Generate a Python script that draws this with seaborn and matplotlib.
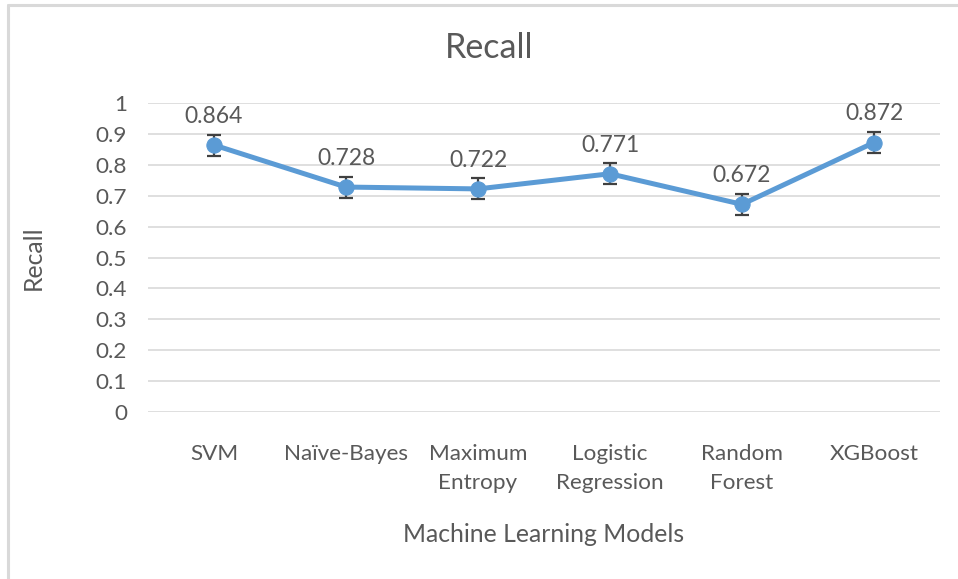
import matplotlib
matplotlib.use("Agg")
import matplotlib.pyplot as plt
import seaborn as sns
import pandas as pd
from matplotlib.lines import Line2D

models = ["SVM", "Naïve-Bayes", "Maximum\nEntropy", "Logistic\nRegression", "Random\nForest", "XGBoost"]
recall = [0.864, 0.728, 0.722, 0.771, 0.672, 0.872]
errors = [0.034, 0.034, 0.034, 0.034, 0.034, 0.034]
y_ticks = [0, 0.1, 0.2, 0.3, 0.4, 0.5, 0.6, 0.7, 0.8, 0.9, 1]
y_tick_labels = ["0", "0.1", "0.2", "0.3", "0.4", "0.5", "0.6", "0.7", "0.8", "0.9", "1"]

sns.set_theme(style="white")
plt.rcParams['font.family'] = ['Lato', 'DejaVu Sans']

TEXT = "#595959"
BLUE = "#5B9BD5"
GRID = "#D9D9D9"

df = pd.DataFrame({"model": models, "recall": recall, "err": errors})
df["pos"] = range(len(df))

fig = plt.figure(figsize=(9.58, 5.79), dpi=100)
ax = fig.add_axes([148/958, 1-412/579, 792/958, 309/579])

ax.errorbar(df["pos"], df["recall"], yerr=df["err"], fmt="none",
            ecolor="#404040", elinewidth=1.6, capsize=5, capthick=1.6, zorder=2)
sns.lineplot(data=df, x="pos", y="recall", ax=ax, color=BLUE, linewidth=3.6,
             marker="o", markersize=11, markeredgecolor=BLUE, sort=False, zorder=3)

for i, v in enumerate(recall):
    ax.annotate(f"{v:.3f}", (i, v), xytext=(0, 13), textcoords="offset points",
                ha="center", va="bottom", fontsize=16.5, color=TEXT)

ax.set_xlim(-0.5, len(models) - 0.5)
ax.set_ylim(0, 1)
ax.set_yticks(y_ticks)
ax.set_yticklabels(y_tick_labels)
ax.set_xticks(range(len(models)))
ax.set_xticklabels(models, ha="center", multialignment="center")
for lbl in ax.get_xticklabels():
    lbl.set_linespacing(1.55)
ax.tick_params(axis="y", length=0, pad=15, labelsize=16.2, labelcolor=TEXT)
ax.tick_params(axis="x", length=0, pad=23, labelsize=16.2, labelcolor=TEXT)
ax.yaxis.grid(True, color=GRID, linewidth=1.2)
ax.xaxis.grid(False)
for s in ax.spines.values():
    s.set_visible(False)

ax.set_xlabel("Machine Learning Models", fontsize=17.8, color=TEXT, labelpad=22)
ax.set_ylabel("Recall", fontsize=17.8, color=TEXT, labelpad=37)
fig.text(489/958, 1-48/579, "Recall", ha="center", va="center", fontsize=24.5, color=TEXT)

fig.add_artist(Line2D([8/958, 8/958], [0, 1-5/579], transform=fig.transFigure, color=GRID, linewidth=2.2))
fig.add_artist(Line2D([8/958, 1], [1-5/579, 1-5/579], transform=fig.transFigure, color=GRID, linewidth=2.2))

fig.savefig("out.png", dpi=100)
